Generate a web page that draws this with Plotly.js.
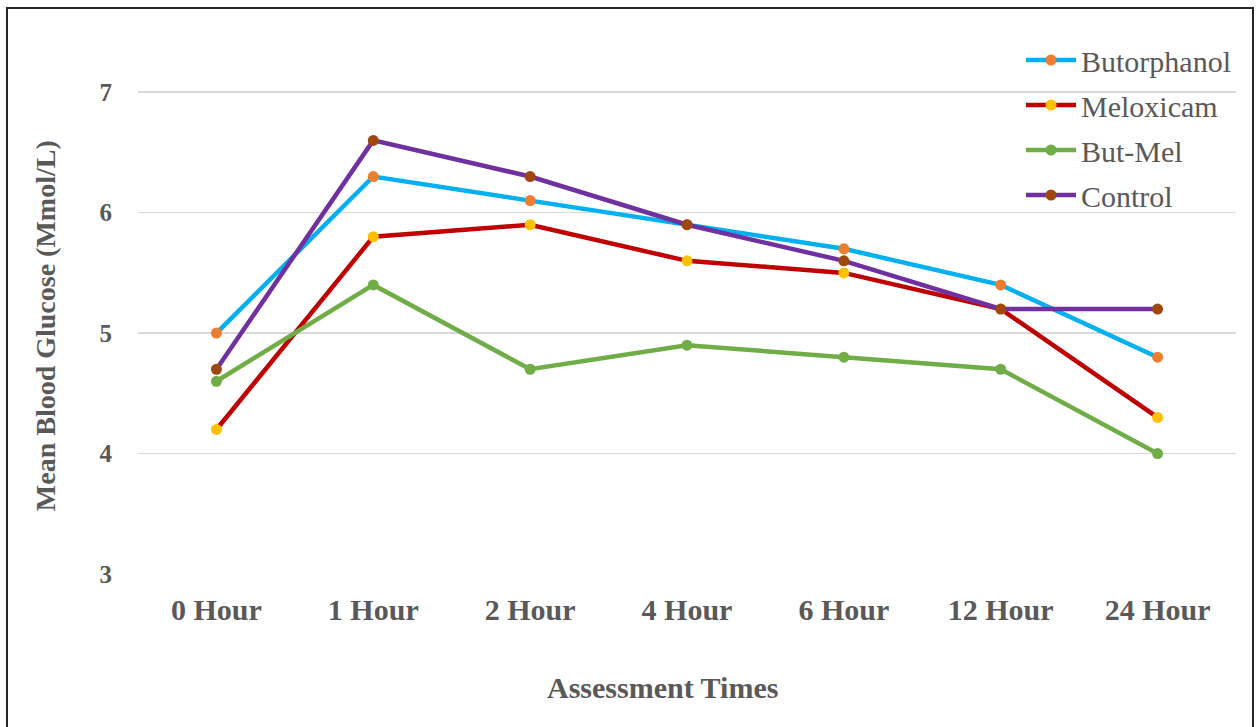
<!DOCTYPE html>
<html>
<head>
<meta charset="utf-8">
<script src="https://cdn.plot.ly/plotly-3.0.1.min.js"></script>
<style>
html,body{margin:0;padding:0;background:#fff;overflow:hidden;}
#wrap{position:relative;width:1257px;height:727px;overflow:hidden;}
#chart{width:1257px;height:727px;}
#frame{position:absolute;left:6px;top:7px;width:1248px;height:740px;border:2px solid #262626;box-sizing:border-box;pointer-events:none;}
</style>
</head>
<body>
<div id="wrap"><div id="chart"></div><div id="frame"></div></div>
<script>
const categories = ["0 Hour","1 Hour","2 Hour","4 Hour","6 Hour","12 Hour","24 Hour"];
const butorphanol = [5.0, 6.3, 6.1, 5.9, 5.7, 5.4, 4.8];
const meloxicam   = [4.2, 5.8, 5.9, 5.6, 5.5, 5.2, 4.3];
const butMel      = [4.6, 5.4, 4.7, 4.9, 4.8, 4.7, 4.0];
const control     = [4.7, 6.6, 6.3, 5.9, 5.6, 5.2, 5.2];
const yTicks = [3,4,5,6,7];
const xTitle = 'Assessment Times';
const yTitle = 'Mean Blood Glucose (Mmol/L)';

const FAM = '"Liberation Serif", "Times New Roman", serif';
function series(name, y, lineColor, markerColor){
  return {
    type:'scatter', mode:'lines+markers', name:name, x:categories, y:y,
    legendgroup:name,
    line:{color:lineColor, width:4.5},
    marker:{color:markerColor, size:11}
  };
}
const data = [
  series("Butorphanol", butorphanol, "#00B0F0", "#ED7D31"),
  series("Meloxicam", meloxicam, "#C00000", "#FFC000"),
  series("But-Mel", butMel, "#70AD47", "#70AD47"),
  series("Control", control, "#7030A0", "#9E480E")
];
const layout = {
  width:1257, height:727,
  paper_bgcolor:'rgba(0,0,0,0)', plot_bgcolor:'#fff',
  margin:{l:138, r:21, t:32, b:153},
  font:{family:FAM, color:'#595959'},
  xaxis:{
    type:'category', range:[-0.5, 6.5], showgrid:false, zeroline:false, showline:false,
    ticks:'', tickfont:{family:FAM, size:30, color:'#595959', weight:'bold'},
    ticklabelstandoff:15
  },
  yaxis:{
    range:[3,7.5], tickvals:yTicks, ticktext:yTicks.map(String),
    showgrid:true, gridcolor:'#d9d9d9', gridwidth:1.5, zeroline:false, showline:false,
    ticks:'', tickfont:{family:FAM, size:25, color:'#595959', weight:'bold'},
    ticklabelstandoff:25
  },
  annotations:[
    {text:xTitle, xref:'paper', yref:'paper', x:0.478, y:-0.2103, xanchor:'center', yanchor:'middle',
     showarrow:false, font:{family:FAM, size:30, color:'#595959', weight:'bold'}},
    {text:yTitle, xref:'paper', yref:'paper', x:-0.0847, y:0.459, xanchor:'center', yanchor:'middle',
     textangle:-90, showarrow:false, font:{family:FAM, size:28, color:'#595959', weight:'bold'}}
  ],
  showlegend:true,
  legend:{
    x:1, xanchor:'right', y:0.9963, yanchor:'top',
    font:{family:FAM, size:30, color:'#595959'}, itemwidth:50,
    tracegroupgap:3, bgcolor:'rgba(0,0,0,0)', borderwidth:0
  },
  hovermode:false
};
Plotly.newPlot('chart', data, layout, {displayModeBar:false, staticPlot:true});
</script>
</body>
</html>
